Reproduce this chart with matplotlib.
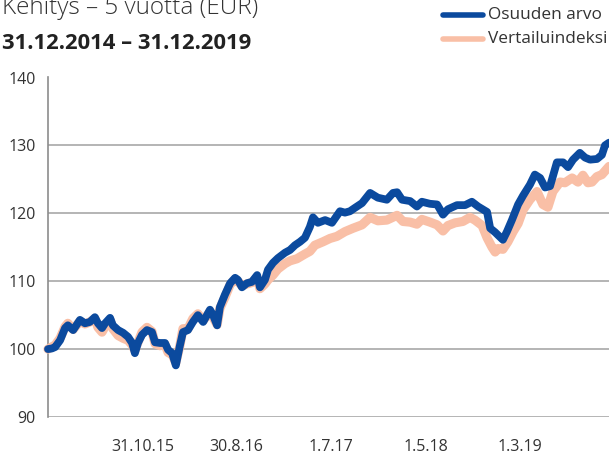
import matplotlib
matplotlib.use("Agg")
import matplotlib.pyplot as plt
import numpy as np
import pandas as pd

# ---- data ----
start_date = "2014-12-31"
end_date = "2019-12-31"

fund_days = [0, 13, 23, 39, 55, 64, 81, 103, 119, 135, 151, 161, 174, 184, 200, 209, 226, 242,
             258, 271, 280, 290, 303, 319, 335, 345, 361, 377, 387, 400, 412, 425, 435, 451,
             467, 483, 500, 522, 532, 545, 554, 570, 587, 603, 612, 625, 641, 657, 674, 683,
             699, 709, 725, 741, 764, 780, 796, 812, 828, 844, 854, 870, 893, 915, 941, 957,
             973, 989, 1012, 1038, 1063, 1092, 1112, 1125, 1141, 1167, 1189, 1205, 1231, 1254,
             1273, 1289, 1318, 1344, 1366, 1386, 1415, 1425, 1441, 1450, 1466, 1479, 1495, 1515,
             1531, 1553, 1569, 1586, 1602, 1618, 1640, 1660, 1676, 1692, 1714, 1731, 1747, 1769,
             1785, 1795, 1808]
fund_values = [100.0, 100.1, 100.3, 101.3, 103.1, 103.5, 102.8, 104.3, 103.8, 104.0, 104.7, 103.8,
               103.1, 103.8, 104.6, 103.5, 102.8, 102.4, 101.8, 100.9, 99.4, 100.9, 102.1, 102.8,
               102.5, 101.0, 100.9, 100.9, 99.9, 99.4, 97.6, 100.5, 102.5, 102.8, 104.0, 105.0,
               104.0, 105.8, 105.0, 103.5, 106.2, 108.0, 109.7, 110.5, 110.2, 109.1, 109.7, 109.9,
               110.9, 109.1, 110.2, 111.7, 112.7, 113.4, 114.2, 114.6, 115.3, 115.8, 116.4, 118.0,
               119.4, 118.6, 119.0, 118.6, 120.3, 120.1, 120.3, 120.8, 121.5, 123.0, 122.3, 122.0,
               123.0, 123.1, 122.0, 121.8, 121.0, 121.7, 121.4, 121.3, 119.8, 120.6, 121.2, 121.2,
               121.7, 121.0, 120.2, 117.8, 117.2, 116.8, 116.1, 117.3, 119.0, 121.3, 122.6, 124.2,
               125.7, 125.2, 123.8, 124.0, 127.5, 127.5, 126.8, 127.9, 128.9, 128.2, 127.9, 128.0,
               128.6, 130.0, 130.4]

index_days = [0, 23, 39, 55, 64, 81, 103, 119, 135, 151, 161, 174, 184, 200, 209, 226, 242, 258,
              271, 280, 290, 303, 319, 335, 345, 361, 377, 387, 400, 412, 425, 435, 451, 467, 483,
              500, 522, 532, 545, 554, 570, 587, 603, 612, 625, 641, 657, 674, 683, 699, 709, 725,
              741, 764, 780, 802, 828, 844, 860, 886, 909, 931, 957, 983, 1012, 1038, 1063, 1092,
              1125, 1144, 1167, 1189, 1205, 1231, 1254, 1273, 1289, 1312, 1337, 1360, 1376, 1399,
              1415, 1431, 1441, 1450, 1466, 1482, 1499, 1515, 1531, 1553, 1576, 1595, 1611, 1627,
              1650, 1666, 1689, 1708, 1724, 1740, 1753, 1769, 1785, 1808]
index_values = [100.0, 100.6, 101.6, 103.3, 103.8, 102.9, 104.1, 103.7, 104.0, 104.5, 103.2, 102.5,
                103.3, 104.3, 103.0, 102.0, 101.6, 101.3, 100.6, 99.8, 101.0, 102.5, 103.2, 102.6,
                100.8, 100.5, 100.7, 99.5, 99.2, 98.0, 100.5, 103.0, 103.0, 104.5, 105.2, 104.2,
                105.5, 104.7, 103.6, 106.0, 107.6, 109.5, 110.3, 110.0, 109.3, 109.6, 109.8, 110.5,
                108.9, 109.6, 110.2, 110.9, 111.8, 112.6, 113.0, 113.3, 114.0, 114.4, 115.3, 115.8,
                116.3, 116.6, 117.3, 117.8, 118.3, 119.4, 118.9, 119.0, 119.7, 118.8, 118.7, 118.4,
                119.1, 118.7, 118.3, 117.4, 118.2, 118.6, 118.8, 119.4, 119.0, 118.2, 116.4, 115.0,
                114.3, 114.8, 114.7, 115.8, 117.3, 118.5, 120.5, 122.0, 123.2, 121.3, 120.9, 123.2,
                124.6, 124.5, 125.2, 124.6, 125.6, 124.5, 124.6, 125.4, 125.7, 126.9]

x_tick_dates = ["2015-10-31", "2016-08-30", "2017-07-01", "2018-05-01", "2019-03-01"]
x_tick_labels = ["31.10.15", "30.8.16", "1.7.17", "1.5.18", "1.3.19"]
y_ticks = [90, 100, 110, 120, 130, 140]

series_names = ["Osuuden arvo", "Vertailuindeksi"]
title_line1 = "Kehitys – 5 vuotta (EUR)"
title_line2 = "31.12.2014 – 31.12.2019"

# ---- styling ----
plt.rcParams['font.family'] = ['Open Sans', 'DejaVu Sans']
blue = "#0b4a9e"
pink = "#f9bfa6"
text_color = "#333333"
grid_color = "#a8a8a8"

W, H = 609, 455
fig = plt.figure(figsize=(W / 100, H / 100), dpi=100)
left_px, right_px, top_px, bottom_px = 48, 614.6, 77.5, 417
ax = fig.add_axes([left_px / W, 1 - bottom_px / H, (right_px - left_px) / W, (bottom_px - top_px) / H])

t0 = pd.Timestamp(start_date)
fund_x = t0 + pd.to_timedelta(fund_days, unit="D")
index_x = t0 + pd.to_timedelta(index_days, unit="D")

ax.plot(index_x, index_values, color=pink, lw=6.6, solid_capstyle="round",
        solid_joinstyle="round", zorder=3, clip_on=False, label=series_names[1])
ax.plot(fund_x, fund_values, color=blue, lw=5.6, solid_capstyle="round",
        solid_joinstyle="round", zorder=4, clip_on=False, label=series_names[0])

ax.set_xlim(t0, pd.Timestamp(end_date))
ax.set_ylim(90, 140)
ax.set_yticks(y_ticks)
ax.set_xticks(pd.to_datetime(x_tick_dates))
ax.set_xticklabels(x_tick_labels)

for s in ["top", "right", "bottom"]:
    ax.spines[s].set_visible(False)
ax.spines["left"].set_color("#8c8c8c")
ax.spines["left"].set_linewidth(1.2)

ax.yaxis.grid(True, color=grid_color, lw=1.2)
ax.set_axisbelow(True)
ax.tick_params(axis="both", length=0, labelsize=11.5, colors=text_color)
ax.tick_params(axis="y", pad=9)
ax.tick_params(axis="x", pad=16)

# titles
fig.text(2 / W, 1 - 14 / H, title_line1, fontsize=17.5, color=text_color,
         fontweight="light", ha="left", va="baseline")
fig.text(2 / W, 1 - 49 / H, title_line2, fontsize=15.8, color="#222222",
         fontweight="bold", ha="left", va="baseline")

# legend (manual placement in figure pixels)
leg_items = [(series_names[0], blue, 15), (series_names[1], pink, 39)]
for name, col, ypx in leg_items:
    fig.add_artist(plt.Line2D([443 / W, 483 / W], [1 - ypx / H, 1 - ypx / H],
                              color=col, lw=4.0, solid_capstyle="round"))
    fig.text(488 / W, 1 - ypx / H, name, fontsize=12.4, color=text_color,
             ha="left", va="center")

fig.savefig("out.png", dpi=100)
